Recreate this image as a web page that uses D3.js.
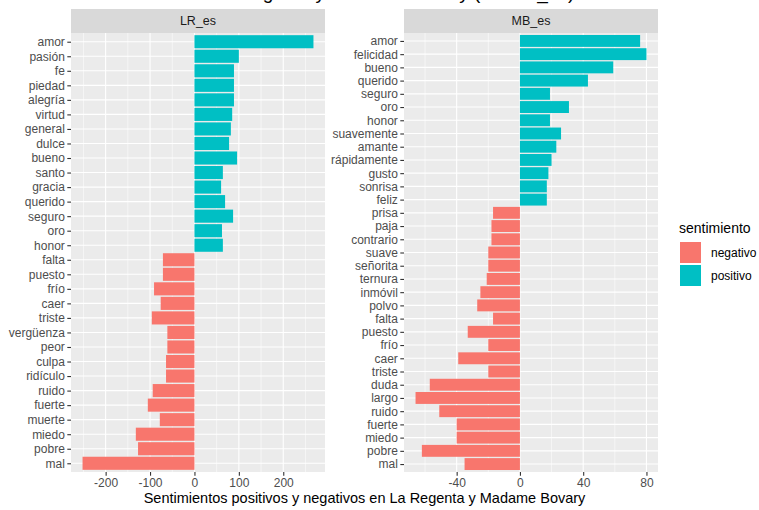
<!DOCTYPE html>
<html><head><meta charset="utf-8">
<script src="https://cdn.jsdelivr.net/npm/d3@7"></script>
<style>body{margin:0;background:#fff}svg{display:block}text{font-family:"Liberation Sans",Arial,sans-serif}</style>
</head><body><svg id="c" width="759" height="510"></svg>
<script>
const lrWords = ["amor","pasión","fe","piedad","alegría","virtud","general","dulce","bueno","santo","gracia","querido","seguro","oro","honor","falta","puesto","frío","caer","triste","vergüenza","peor","culpa","ridículo","ruido","fuerte","muerte","miedo","pobre","mal"];
const lrValues = [268,100,89,89,89,85,82,78,96,64,60,69,87,62,64,-71,-71,-91,-76,-96,-61,-61,-64,-64,-94,-105,-78,-132,-127,-252];
const mbWords = ["amor","felicidad","bueno","querido","seguro","oro","honor","suavemente","amante","rápidamente","gusto","sonrisa","feliz","prisa","paja","contrario","suave","señorita","ternura","inmóvil","polvo","falta","puesto","frío","caer","triste","duda","largo","ruido","fuerte","miedo","pobre","mal"];
const mbValues = [76,80,59,43,19,31,19,26,23,20,18,17,17,-17,-18,-18,-20,-20,-21,-25,-27,-17,-33,-20,-39,-20,-57,-66,-51,-40,-40,-62,-35];
const lrTicks = [-200,-100,0,100,200];
const lrMinor = [-250,-150,-50,50,150,250];
const mbTicks = [-40,0,40,80];
const mbMinor = [-60,-20,20,60];
const panels = ["LR_es","MB_es"];
const legendLabels = ["negativo","positivo"];
const colors = {negativo:"#F8766D", positivo:"#00BFC4"};

const svg = d3.select("#c");
const pTop = 33, pBottom = 472;
const facets = [
  {name:panels[0], words:lrWords, values:lrValues, ticks:lrTicks, minor:lrMinor, x0:71, x1:325},
  {name:panels[1], words:mbWords, values:mbValues, ticks:mbTicks, minor:mbMinor, x0:404, x1:658}
];

svg.append("text").attr("x",80).attr("y",-1).attr("font-size",19).attr("fill","#000")
  .text("Sentimiento en La Regenta y Madame Bovary (AFINN_es)");

facets.forEach(f => {
  const mn = d3.min(f.values.concat([0])), mx = d3.max(f.values.concat([0]));
  const r = mx - mn;
  const x = d3.scaleLinear().domain([mn - 0.05*r, mx + 0.05*r]).range([f.x0, f.x1]);
  const y = d3.scalePoint().domain(f.words).range([pTop, pBottom]).padding(0.6);
  const step = y.step();
  const g = svg.append("g");
  g.append("rect").attr("x",f.x0).attr("y",9).attr("width",f.x1-f.x0).attr("height",pTop-9).attr("fill","#D9D9D9");
  g.append("text").attr("x",(f.x0+f.x1)/2).attr("y",(9+pTop)/2).attr("dy","0.35em").attr("text-anchor","middle")
    .attr("font-size",12.5).attr("fill","#1A1A1A").text(f.name);
  g.append("rect").attr("x",f.x0).attr("y",pTop).attr("width",f.x1-f.x0).attr("height",pBottom-pTop).attr("fill","#EBEBEB");
  f.minor.forEach(v => g.append("line").attr("x1",x(v)).attr("x2",x(v)).attr("y1",pTop).attr("y2",pBottom).attr("stroke","#fff").attr("stroke-width",0.55));
  f.ticks.forEach(v => g.append("line").attr("x1",x(v)).attr("x2",x(v)).attr("y1",pTop).attr("y2",pBottom).attr("stroke","#fff").attr("stroke-width",1.1));
  f.words.forEach(w => g.append("line").attr("x1",f.x0).attr("x2",f.x1).attr("y1",y(w)).attr("y2",y(w)).attr("stroke","#fff").attr("stroke-width",1.1));
  g.selectAll("rect.bar").data(f.words.map((w,i)=>({w, v:f.values[i]}))).join("rect").attr("class","bar")
    .attr("x", d => x(Math.min(0,d.v))).attr("width", d => Math.abs(x(d.v)-x(0)))
    .attr("y", d => y(d.w) - 0.45*step).attr("height", 0.9*step)
    .attr("fill", d => d.v < 0 ? colors.negativo : colors.positivo);
  const ax = g.append("g").attr("transform",`translate(0,${pBottom})`)
    .call(d3.axisBottom(x).tickValues(f.ticks).tickSize(3.7).tickPadding(2.5).tickFormat(d => d < 0 ? "-" + Math.abs(d) : d));
  const ay = g.append("g").attr("transform",`translate(${f.x0},0)`)
    .call(d3.axisLeft(y).tickSize(3.7).tickPadding(2.5));
  [ax, ay].forEach(a => {
    a.select(".domain").remove();
    a.selectAll(".tick line").attr("stroke","#333").attr("stroke-width",1.1);
    a.selectAll(".tick text").attr("fill","#4D4D4D").attr("font-size",12).attr("font-family","Liberation Sans, Arial, sans-serif");
  });
});

svg.append("text").attr("x",(71+658)/2).attr("y",498).attr("dy","0.35em").attr("text-anchor","middle")
  .attr("font-size",14.5).attr("fill","#000").text("Sentimientos positivos y negativos en La Regenta y Madame Bovary");

const lg = svg.append("g");
lg.append("text").attr("x",679).attr("y",228).attr("dy","0.35em").attr("font-size",14).attr("fill","#000").text("sentimiento");
legendLabels.forEach((l,i) => {
  lg.append("rect").attr("x",680).attr("y",242 + i*23).attr("width",21).attr("height",21).attr("fill",colors[l]);
  lg.append("text").attr("x",711).attr("y",252.5 + i*23).attr("dy","0.35em").attr("font-size",12).attr("fill","#000").text(l);
});
</script></body></html>
